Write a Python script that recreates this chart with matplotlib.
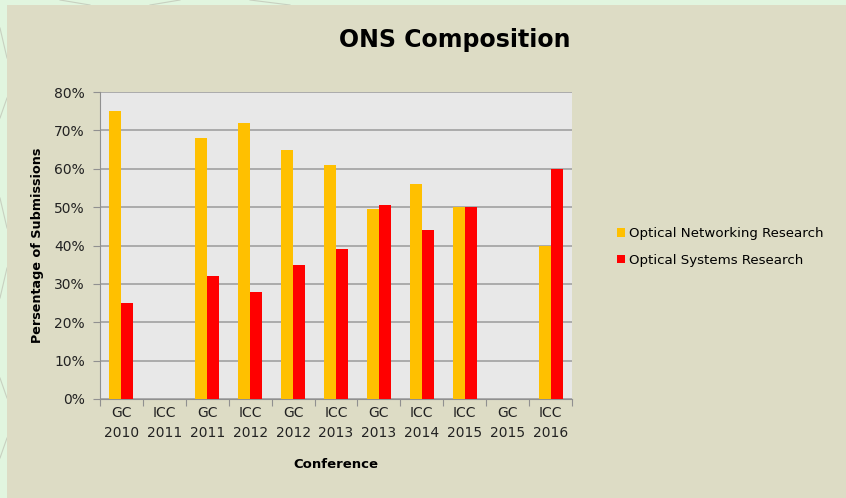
import matplotlib.pyplot as plt
from matplotlib.patches import Rectangle
import numpy as np

conferences = ['GC\n2010', 'ICC\n2011', 'GC\n2011', 'ICC\n2012', 'GC\n2012', 'ICC\n2013',
               'GC\n2013', 'ICC\n2014', 'ICC\n2015', 'GC\n2015', 'ICC\n2016']
networking = [75, 0, 68, 72, 65, 61, 49.4, 56, 50, 0, 40]
systems = [25, 0, 32, 28, 35, 39, 50.6, 44, 50, 0, 60]
y_ticks = [0, 10, 20, 30, 40, 50, 60, 70, 80]

W, H = 846, 498
fig = plt.figure(figsize=(W / 100, H / 100), dpi=100)
fig.patch.set_facecolor('#e1f5df')
# faint pattern on the green strip
for (x0, y0, x1, y1) in [(0, 470, 7, 440), (0, 380, 7, 400), (0, 300, 7, 270),
                         (0, 200, 7, 230), (0, 120, 7, 100), (0, 40, 7, 60),
                         (60, 498, 90, 493), (150, 493, 180, 498), (250, 498, 290, 493)]:
    fig.add_artist(plt.Line2D([x0 / W, x1 / W], [y0 / H, y1 / H], transform=fig.transFigure,
                              color='#c8d0c0', linewidth=0.8, zorder=0))
fig.add_artist(Rectangle((7 / W, 0), 1 - 7 / W, 1 - 5 / H, transform=fig.transFigure,
                         facecolor='#dddcc5', edgecolor='none', zorder=0))

ax = fig.add_axes([100 / W, 1 - 399 / H, 472 / W, 307 / H])
ax.set_facecolor('#e8e8e8')

x = np.arange(len(conferences))
w = 0.28
ax.bar(x - w / 2, networking, w, color='#ffc000', label='Optical Networking Research', zorder=3)
ax.bar(x + w / 2, systems, w, color='#ff0000', label='Optical Systems Research', zorder=3)

ax.set_xlim(-0.5, len(conferences) - 0.5)
ax.set_ylim(0, 80)
ax.set_yticks(y_ticks)
ax.set_yticklabels(['%d%%' % v for v in y_ticks], fontsize=10, color='#222222')
ax.yaxis.grid(True, color='#a0a0a0', linewidth=1.2, zorder=1)

ax.set_xticks(np.arange(-0.5, len(conferences)), minor=False)
ax.set_xticklabels([])
ax.set_xticks(x, minor=True)
ax.set_xticklabels(conferences, minor=True, fontsize=10, color='#222222', linespacing=1.55)
ax.tick_params(axis='x', which='minor', length=0, pad=5)
ax.tick_params(axis='both', which='major', direction='out', length=5, color='#909090')
ax.tick_params(axis='y', pad=6)

for s in ['top', 'right']:
    ax.spines[s].set_visible(False)
for s in ['left', 'bottom']:
    ax.spines[s].set_color('#909090')

ax.set_ylabel('Persentage of Submissions', fontsize=9.2, fontweight='bold', labelpad=7)
ax.set_xlabel('Conference', fontsize=9.5, fontweight='bold', labelpad=13)

fig.text(455 / W, 1 - 40 / H, 'ONS Composition', fontsize=17, fontweight='bold',
         ha='center', va='center')

fig.legend(loc='center left', bbox_to_anchor=(605 / W, 1 - 247 / H), frameon=False,
           fontsize=9.6, handlelength=0.6, handleheight=0.6, handletextpad=0.3,
           labelspacing=1.0)

plt.savefig('out.png', dpi=100, facecolor=fig.get_facecolor())
